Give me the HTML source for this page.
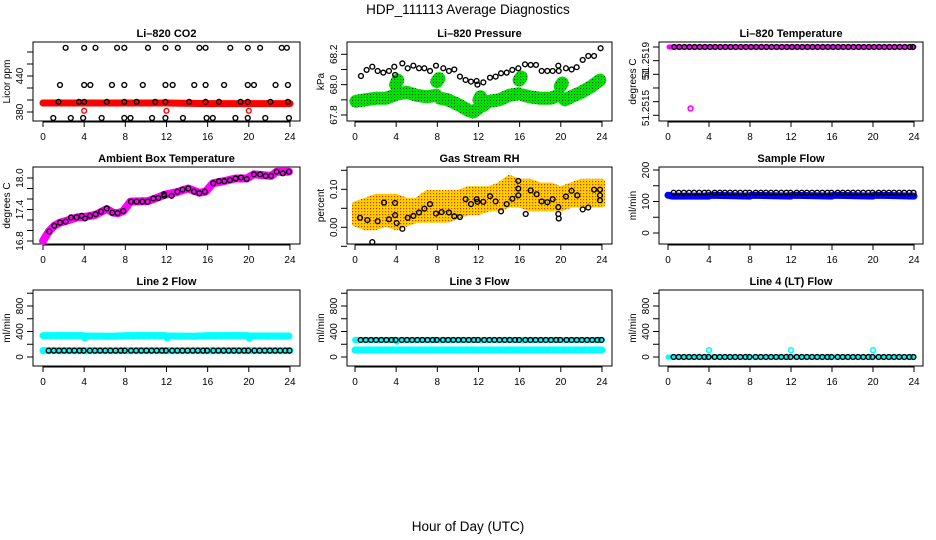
<!DOCTYPE html>
<html><head><meta charset="utf-8"><style>
html,body{margin:0;padding:0;background:#fff}
svg{display:block;font-family:"Liberation Sans",Arial,sans-serif}
</style></head><body>
<svg id="chart" width="936" height="540" viewBox="0 0 936 540" xmlns="http://www.w3.org/2000/svg">
<defs>
<pattern id="stipG" width="3" height="3" patternUnits="userSpaceOnUse"><rect width="3" height="3" fill="#00e000"/><rect x="1" y="1" width="1" height="1" fill="#004000"/></pattern>
<pattern id="stipO" width="3" height="3" patternUnits="userSpaceOnUse"><rect width="3" height="3" fill="#ffd000"/><rect x="1" y="1" width="1.2" height="1.2" fill="#e03000"/></pattern>
</defs>
<text x="468" y="14" font-size="13.5" text-anchor="middle">HDP_111113  Average Diagnostics</text>
<text x="468" y="531" font-size="13.5" text-anchor="middle">Hour of Day (UTC)</text>
</svg>
<script>
// ---- data ----
const xTicks=[0,4,8,12,16,20,24];
// CO2
const co2Hours=[2.2,4.0,5.1,7.2,7.9,10.2,11.9,13.1,15.2,15.8,18.2,19.9,21.1,23.2,23.7,1.65,4.0,4.6,6.7,7.9,9.7,11.9,12.6,14.7,15.8,17.6,19.9,20.5,22.6,23.8,1.5,3.5,4.0,6.2,7.9,9.1,10.9,11.9,14.2,15.8,17.1,19.2,19.9,22.1,23.8,1.0,2.7,3.9,5.7,7.9,8.5,10.6,11.9,13.6,15.9,16.5,18.7,19.9,21.6,23.9];
const co2Vals=[487,487,487,487,487,487,487,487,487,487,487,487,487,487,487,425,425,425,425,425,425,425,425,425,425,425,425,425,425,425,397,397,397,397,397,397,397,397,397,397,397,397,397,397,397,370,370,370,370,370,370,370,370,370,370,370,370,370,370,370];
const co2BandHours=[0,4,8,12,16,20,24];
const co2BandVals=[395,395,395,395,394,394,394];
const co2OutHours=[4,12,20];
const co2OutVals=[382,382,382];
// Pressure
const presHours=[0.58,1.13,1.68,2.2,2.75,3.3,3.82,3.9,4.6,5.12,5.67,6.22,6.74,7.29,7.87,8.58,9.13,9.65,10.2,10.75,11.27,11.82,11.9,12.47,13.12,13.67,14.19,14.74,15.29,15.87,16.52,17.07,17.59,18.14,18.69,19.21,19.76,19.8,20.5,21.05,21.54,22.13,22.67,23.23,23.87];
const presVals=[68.057,68.097,68.118,68.09,68.079,68.09,68.118,68.064,68.14,68.108,68.125,68.108,68.108,68.09,68.125,68.108,68.09,68.1,68.053,68.031,68.02,68.024,68.0,68.015,68.046,68.053,68.075,68.079,68.097,68.108,68.134,68.13,68.13,68.09,68.09,68.09,68.125,68.09,68.108,68.1,68.115,68.163,68.189,68.189,68.24];
const greenHours=[0.1,1,2,3,3.8,null,3.95,4.15,null,4.3,5,6,7,7.9,null,7.95,8.15,null,8.3,9,10,11,11.5,11.9,null,12.05,12.2,null,12.4,13,14,15,15.9,null,15.95,16.15,null,16.4,17,18,19,19.8,null,19.95,20.15,null,20.4,21,22,23,23.8];
const greenVals=[67.89,67.9,67.91,67.91,67.93,null,68.0,68.03,null,67.94,67.95,67.93,67.92,67.93,null,68.02,68.04,null,67.91,67.9,67.87,67.83,67.82,67.84,null,67.9,67.92,null,67.86,67.89,67.9,67.93,67.94,null,68.03,68.05,null,67.93,67.92,67.91,67.91,67.93,null,67.99,68.01,null,67.9,67.92,67.95,67.99,68.03];
// Li-820 temperature
const tempHours=[0.1,24];
const tempVals=[51.2519,51.2519];
const tempOutHours=[2.2];
const tempOutVals=[51.25145];
// Ambient
const ambHours=[0.61,1.1,1.65,2.2,2.72,3.27,3.76,4.08,4.57,5.12,5.64,6.19,6.74,7.25,7.8,8.55,9.1,9.65,10.17,10.72,11.2,11.76,11.8,12.5,13.05,13.57,14.12,14.67,15.19,15.74,16.55,17.1,17.62,18.17,18.72,19.24,19.8,20.5,21.1,21.64,22.16,22.71,23.3,23.9];
const ambVals=[16.98,17.09,17.15,17.17,17.25,17.25,17.28,17.23,17.28,17.31,17.36,17.42,17.34,17.33,17.37,17.55,17.55,17.55,17.55,17.61,17.62,17.69,17.66,17.66,17.74,17.78,17.8,17.74,17.71,17.74,17.9,17.94,17.94,17.96,17.99,18.01,17.98,18.07,18.07,18.04,18.04,18.12,18.09,18.12];
const ambBandHours=[0,0.3,0.6,1.1,1.65,2.2,3.3,4.1,5.1,6.2,6.8,7.3,7.8,8.5,10.2,11.2,11.8,13,14.1,15.2,15.8,16.5,17.6,18.7,19.8,20.5,21.6,22.2,22.7,23.9];
const ambBandVals=[16.8,16.9,16.99,17.09,17.15,17.18,17.25,17.26,17.3,17.41,17.34,17.33,17.37,17.55,17.56,17.63,17.68,17.73,17.8,17.72,17.74,17.9,17.94,17.99,17.99,18.07,18.05,18.04,18.12,18.12];
// Gas RH
const rhHours=[0.49,1.2,1.68,2.2,2.82,3.3,3.89,3.9,4.05,4.6,5.12,5.67,6.22,6.74,7.29,7.87,8.42,9.13,9.65,10.2,10.75,11.27,11.82,11.9,12.47,13.12,13.67,14.19,14.74,15.29,15.87,15.87,15.87,16.59,17.07,17.65,18.14,18.69,19.21,19.76,19.76,19.8,20.5,21.05,21.6,22.13,22.67,23.23,23.81,23.81,23.81];
const rhVals=[0.025,0.019,-0.039,0.016,0.065,0.021,0.064,0.032,0.011,-0.004,0.025,0.03,0.039,0.049,0.061,0.036,0.04,0.039,0.029,0.027,0.074,0.061,0.074,0.067,0.067,0.082,0.068,0.042,0.061,0.075,0.122,0.102,0.084,0.035,0.097,0.087,0.068,0.066,0.074,0.053,0.035,0.023,0.081,0.096,0.084,0.047,0.052,0.099,0.099,0.084,0.071];
const rhBandHours=[0,1,2,3,4,5,6,7,8,9,10,11,12,13,14,15,16,17,18,19,20,21,22,23,24];
const rhLow=[0.01,0.0,0.0,0.01,0.0,0.01,0.02,0.02,0.02,0.02,0.03,0.04,0.04,0.05,0.05,0.06,0.06,0.05,0.05,0.05,0.05,0.06,0.06,0.06,0.06];
const rhHigh=[0.06,0.07,0.08,0.08,0.08,0.07,0.07,0.09,0.09,0.09,0.09,0.1,0.1,0.1,0.11,0.13,0.12,0.12,0.11,0.11,0.1,0.11,0.12,0.12,0.12];
// Flows (black points every ~30 min)
const flowHours=[0.55,1.05,1.55,2.05,2.55,3.05,3.55,3.95,4.55,5.05,5.55,6.05,6.55,7.05,7.55,7.95,8.55,9.05,9.55,10.05,10.55,11.05,11.55,11.95,12.55,13.05,13.55,14.05,14.55,15.05,15.55,15.95,16.55,17.05,17.55,18.05,18.55,19.05,19.55,19.95,20.55,21.05,21.55,22.05,22.55,23.05,23.55,23.95];
const sampleVals=[128,128,128,128,128,128,128,128,128,128,128,128,128,128,128,128,128,128,128,128,128,128,128,128,128,128,128,128,128,128,128,128,128,128,128,128,128,128,128,128,128,128,128,128,128,128,128,128];
const line2Vals=[100,100,100,100,100,100,100,100,100,100,100,100,100,100,100,100,100,100,100,100,100,100,100,100,100,100,100,100,100,100,100,100,100,100,100,100,100,100,100,100,100,100,100,100,100,100,100,100];
const line3Vals=[267,267,267,267,267,267,267,267,267,267,267,267,267,267,267,267,267,267,267,267,267,267,267,267,267,267,267,267,267,267,267,267,267,267,267,267,267,267,267,267,267,267,267,267,267,267,267,267];
const line4Vals=[0,0,0,0,0,0,0,0,0,0,0,0,0,0,0,0,0,0,0,0,0,0,0,0,0,0,0,0,0,0,0,0,0,0,0,0,0,0,0,0,0,0,0,0,0,0,0,0];
const blueHours=[0,0.4,4,4.1,8,8.1,12,12.1,16,16.1,20,20.1,24];
const blueVals=[120,117,117,120,117,120,117,120,117,120,117,120,117];
const cyan2Hours=[0,3.9,4.05,4.2,6.5,8.3,11.9,12.05,12.2,14.5,16.3,19.9,20.05,20.2,23.9];
const cyan2Vals=[335,335,300,330,325,335,335,300,330,325,335,335,295,330,330];
const cyan2LowHours=[0,24];
const cyan2LowVals=[100,100];
const cyan3Hours=[0,24];
const cyan3Vals=[110,110];
const cyan3HiHours=[0,3.9,4.05,4.2,24];
const cyan3HiVals=[267,267,240,267,267];
const cyan4Hours=[0,24];
const cyan4Vals=[0,0];
const cyan4OutHours=[4,12,20];
const cyan4OutVals=[108,108,108];

// ---- drawing ----
const NS='http://www.w3.org/2000/svg';
const svg=document.getElementById('chart');
function mk(tag,attrs,parent){const e=document.createElementNS(NS,tag);for(const k in attrs)e.setAttribute(k,attrs[k]);(parent||svg).appendChild(e);return e;}

function panel(o){
  const g=mk('g',{});
  
  
  const sx=h=>o.x0+h*o.kx;
  const sy=v=>o.y1+(v-o.v1)*(o.y2-o.y1)/(o.v2-o.v1);
  const t=mk('text',{x:(o.L+o.R)/2,y:o.T-5,'font-size':11,'font-weight':'bold','text-anchor':'middle'},g);
  t.textContent=o.title;
  
  
  const box=mk('rect',{x:o.L,y:o.T,width:o.R-o.L,height:o.B-o.T,fill:'none',stroke:'#000','stroke-width':1},g);
  
  
  xTicks.forEach(v=>{
    const x=sx(v);
    mk('line',{x1:x,x2:x,y1:o.B,y2:o.B+6,stroke:'#000'},g);
    const l=mk('text',{x:x,y:o.B+19,'font-size':10,'text-anchor':'middle'},g);
    l.textContent=v;
    
    
  });
  mk('line',{x1:sx(0),x2:sx(24),y1:o.B+1,y2:o.B+1,stroke:'#000'},g);
  o.yt.forEach(v=>{const y=sy(v);mk('line',{x1:o.L-6,x2:o.L,y1:y,y2:y,stroke:'#000'},g);});
  (o.yl||[]).forEach((v,i)=>{
    const y=o.ylPos?o.ylPos[i]:sy(v);
    const l=mk('text',{x:0,y:0,'font-size':10,'text-anchor':'middle',transform:`translate(${o.L-10},${y}) rotate(-90)`},g);
    l.textContent=o.ylText?o.ylText[i]:v;
    
    
  });
  const yt=mk('text',{x:0,y:0,'font-size':10,'text-anchor':'middle',transform:`translate(${o.L-23},${(o.T+o.B)/2}) rotate(-90)`},g);
  yt.textContent=o.ylab;
  
  
  const clip='c'+o.name;
  const cp=mk('clipPath',{id:clip},g);mk('rect',{x:o.L,y:o.T-3,width:o.R-o.L,height:o.B-o.T+6},cp);
  const d=mk('g',{'clip-path':`url(#${clip})`},g);
  return {g:d,sx,sy};
}
function band(p,hs,vs,color,w,name){
  let dstr='',pen=false;
  hs.forEach((h,i)=>{if(h===null||vs[i]===null){pen=false;return;}dstr+=(pen?'L':'M')+p.sx(h).toFixed(1)+' '+p.sy(vs[i]).toFixed(1);pen=true;});
  const e=mk('path',{d:dstr,fill:'none',stroke:color,'stroke-width':w,'stroke-linecap':'round','stroke-linejoin':'round'},p.g);
  
  
}
function pts(p,hs,vs,color,name,sw){
  hs.forEach((h,i)=>{
    const c=mk('circle',{cx:p.sx(h),cy:p.sy(vs[i]),r:2.4,fill:'none',stroke:color,'stroke-width':sw||1.4},p.g);
    
    
  });
}
function area(p,hs,lo,hi,fill,name){
  let d='M';
  hs.forEach((h,i)=>{d+=(i?'L':'')+p.sx(h).toFixed(1)+' '+p.sy(hi[i]).toFixed(1);});
  for(let i=hs.length-1;i>=0;i--)d+='L'+p.sx(hs[i]).toFixed(1)+' '+p.sy(lo[i]).toFixed(1);
  d+='Z';
  const e=mk('path',{d:d,fill:fill,stroke:fill,'stroke-width':6,'stroke-linejoin':'round'},p.g);
  
  
}
const C=[{L:33,R:300,x0:43,kx:10.29},{L:347,R:612,x0:355,kx:10.29},{L:659,R:923,x0:668,kx:10.25}];
const R=[{T:42,B:121},{T:167,B:244},{T:290,B:366}];
function P(c,r,o){return panel(Object.assign({},C[c],R[r],o));}

// Row 1
let p=P(0,0,{name:'co2-panel',title:'Li\u2013820 CO2',ylab:'Licor ppm',v1:380,y1:112,v2:440,y2:76,yt:[380,400,420,440,460,480],yl:[380,440]});
band(p,co2BandHours,co2BandVals,'#ff0000',7,'co2-band');
pts(p,co2OutHours,co2OutVals,'#ff0000','co2-outlier');
pts(p,co2Hours,co2Vals,'#000','co2-point');

p=P(1,0,{name:'pressure-panel',title:'Li\u2013820 Pressure',ylab:'kPa',v1:67.8,y1:115,v2:68.2,y2:54.3,yt:[67.8,67.9,68.0,68.1,68.2],yl:['67.8','68.0','68.2'].map(Number),ylText:['67.8','68.0','68.2']});
band(p,greenHours,greenVals,'url(#stipG)',13,'pressure-band');
pts(p,presHours,presVals,'#000','pressure-point');

p=P(2,0,{name:'li820-temp-panel',title:'Li\u2013820 Temperature',ylab:'degrees C',v1:51.2519,y1:47,v2:51.2514,y2:115.3,yt:[51.2519,51.2518,51.2517,51.2516,51.2515,51.2514],yl:[0,1,2],ylPos:[60,74.7,108],ylText:['51.2519','51','51.2515']});
band(p,tempHours,tempVals,'#ff00ff',5,'temp-band');
pts(p,[0.6,1.1,1.6,2.1,2.6,3.1,3.6,4.1,4.6,5.1,5.6,6.1,6.6,7.1,7.6,8.1,8.6,9.1,9.6,10.1,10.6,11.1,11.6,12.1,12.6,13.1,13.6,14.1,14.6,15.1,15.6,16.1,16.6,17.1,17.6,18.1,18.6,19.1,19.6,20.1,20.6,21.1,21.6,22.1,22.6,23.1,23.6,23.9],[51.2519,51.2519,51.2519,51.2519,51.2519,51.2519,51.2519,51.2519,51.2519,51.2519,51.2519,51.2519,51.2519,51.2519,51.2519,51.2519,51.2519,51.2519,51.2519,51.2519,51.2519,51.2519,51.2519,51.2519,51.2519,51.2519,51.2519,51.2519,51.2519,51.2519,51.2519,51.2519,51.2519,51.2519,51.2519,51.2519,51.2519,51.2519,51.2519,51.2519,51.2519,51.2519,51.2519,51.2519,51.2519,51.2519,51.2519,51.2519],'#000','temp-point');
pts(p,tempOutHours,tempOutVals,'#ff00ff','temp-outlier',1.6);

// Row 2
p=P(0,1,{name:'ambient-temp-panel',title:'Ambient Box Temperature',ylab:'degrees C',v1:16.8,y1:241,v2:18.0,y2:178,yt:[16.8,17.0,17.2,17.4,17.6,17.8,18.0],yl:[16.8,17.4,18.0],ylText:['16.8','17.4','18.0']});
band(p,ambBandHours,ambBandVals,'#ff00ff',8,'ambient-band');
pts(p,ambHours,ambVals,'#000','ambient-point');

p=P(1,1,{name:'gas-rh-panel',title:'Gas Stream RH',ylab:'percent',v1:0,y1:227.3,v2:0.1,y2:189.3,yt:[-0.05,0,0.05,0.1,0.15],yl:[0,0.1],ylText:['0.00','0.10']});
area(p,rhBandHours,rhLow,rhHigh,'url(#stipO)','rh-band');
pts(p,rhHours,rhVals,'#000','rh-point');

p=P(2,1,{name:'sample-flow-panel',title:'Sample Flow',ylab:'ml/min',v1:0,y1:233,v2:200,y2:170,yt:[0,50,100,150,200],yl:[0,100,200]});
band(p,blueHours,blueVals,'#0000ff',7,'sample-band');
pts(p,flowHours,sampleVals,'#000','sample-point');

// Row 3
const fy={v1:0,y1:357,v2:800,y2:306,yt:[0,200,400,600,800,1000],yl:[0,400,800],ylab:'ml/min'};
p=P(0,2,Object.assign({name:'line2-flow-panel',title:'Line 2 Flow'},fy));
band(p,cyan2Hours,cyan2Vals,'#00ffff',7,'line2-band-upper');
band(p,cyan2LowHours,cyan2LowVals,'#00ffff',7,'line2-band-lower');
pts(p,flowHours,line2Vals,'#000','line2-point');

p=P(1,2,Object.assign({name:'line3-flow-panel',title:'Line 3 Flow'},fy));
band(p,cyan3Hours,cyan3Vals,'#00ffff',7,'line3-band-lower');
band(p,cyan3HiHours,cyan3HiVals,'#00ffff',6,'line3-band-upper');
pts(p,flowHours,line3Vals,'#000','line3-point');

p=P(2,2,Object.assign({name:'line4-flow-panel',title:'Line 4 (LT) Flow'},fy));
band(p,cyan4Hours,cyan4Vals,'#00ffff',5,'line4-band');
pts(p,flowHours,line4Vals,'#000','line4-point');
pts(p,cyan4OutHours,cyan4OutVals,'#00ffff','line4-outlier',1.6);
</script>
</body></html>
